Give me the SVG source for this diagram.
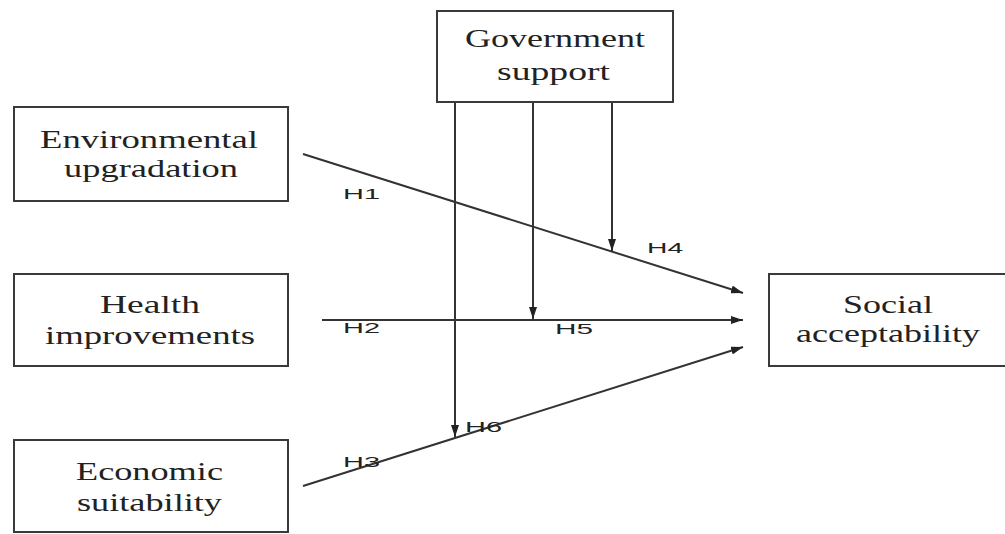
<svg xmlns="http://www.w3.org/2000/svg" width="1005" height="534" viewBox="0 0 1005 534">
<style>
.box{fill:#fff;stroke:#3a3a3a;stroke-width:2}
.t{font-family:"Liberation Serif","Times New Roman",serif;font-size:25px;fill:#222}
.h{font-family:"Liberation Sans",Arial,sans-serif;font-size:15px;fill:#222}
.c{fill:none;stroke:#333;stroke-width:2}
</style>
<defs>
<marker id="ah" markerUnits="userSpaceOnUse" markerWidth="12" markerHeight="8" refX="12" refY="4" orient="auto">
<path d="M0,0 L12,4 L0,8 z" fill="#222"/>
</marker>
</defs>
<rect width="1005" height="534" fill="#fff"/>
<g id="connectors">
<line class="c" x1="303" y1="154" x2="743" y2="293" marker-end="url(#ah)"/>
<line class="c" x1="322" y1="320" x2="743" y2="320" marker-end="url(#ah)"/>
<line class="c" x1="303" y1="486" x2="743" y2="347" marker-end="url(#ah)"/>
<line class="c" x1="455" y1="102" x2="455" y2="437" marker-end="url(#ah)"/>
<line class="c" x1="533" y1="102" x2="533" y2="319" marker-end="url(#ah)"/>
<line class="c" x1="612" y1="102" x2="612" y2="251" marker-end="url(#ah)"/>
<g transform="scale(1.9,1)">
<text class="h" x="180.53" y="199" textLength="19.47" lengthAdjust="spacingAndGlyphs">H1</text>
<text class="h" x="180.53" y="333" textLength="19.47" lengthAdjust="spacingAndGlyphs">H2</text>
<text class="h" x="180.53" y="467" textLength="19.47" lengthAdjust="spacingAndGlyphs">H3</text>
<text class="h" x="340.53" y="253" textLength="19" lengthAdjust="spacingAndGlyphs">H4</text>
<text class="h" x="292.11" y="334" textLength="20" lengthAdjust="spacingAndGlyphs">H5</text>
<text class="h" x="244.74" y="432" textLength="19.47" lengthAdjust="spacingAndGlyphs">H6</text>
</g>
</g>
<g id="government">
<rect class="box" x="437" y="11" width="236" height="91"/>
<g transform="scale(1.45,1)">
<text class="t" x="320.69" y="47" textLength="124.14" lengthAdjust="spacingAndGlyphs">Government</text>
<text class="t" x="342.76" y="80" textLength="77.93" lengthAdjust="spacingAndGlyphs">support</text>
</g>
</g>
<g id="environmental">
<rect class="box" x="14" y="107" width="274" height="94"/>
<g transform="scale(1.45,1)">
<text class="t" x="27.59" y="148" textLength="150.34" lengthAdjust="spacingAndGlyphs">Environmental</text>
<text class="t" x="44.14" y="177" textLength="120" lengthAdjust="spacingAndGlyphs">upgradation</text>
</g>
</g>
<g id="health">
<rect class="box" x="14" y="274" width="274" height="92"/>
<g transform="scale(1.45,1)">
<text class="t" x="68.97" y="313" textLength="68.97" lengthAdjust="spacingAndGlyphs">Health</text>
<text class="t" x="31.03" y="344" textLength="144.83" lengthAdjust="spacingAndGlyphs">improvements</text>
</g>
</g>
<g id="economic">
<rect class="box" x="14" y="440" width="274" height="92"/>
<g transform="scale(1.45,1)">
<text class="t" x="52.41" y="480" textLength="101.38" lengthAdjust="spacingAndGlyphs">Economic</text>
<text class="t" x="53.10" y="511" textLength="100" lengthAdjust="spacingAndGlyphs">suitability</text>
</g>
</g>
<g id="social">
<rect class="box" x="769" y="274" width="240" height="92"/>
<g transform="scale(1.45,1)">
<text class="t" x="581.38" y="313" textLength="62.07" lengthAdjust="spacingAndGlyphs">Social</text>
<text class="t" x="548.97" y="342" textLength="126.9" lengthAdjust="spacingAndGlyphs">acceptability</text>
</g>
</g>
</svg>
